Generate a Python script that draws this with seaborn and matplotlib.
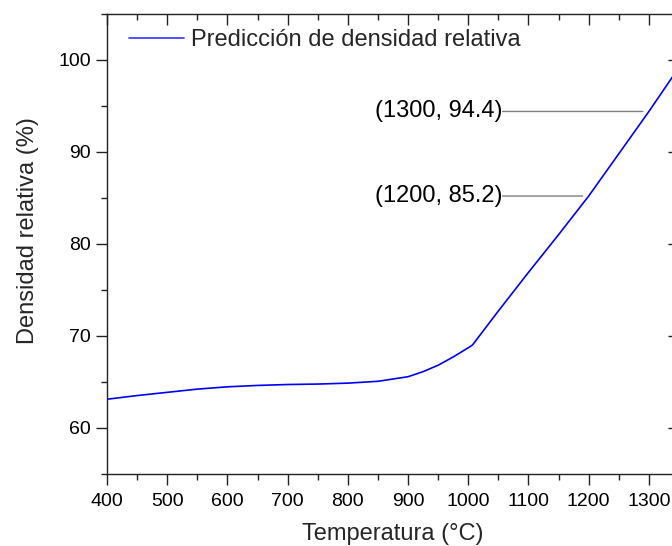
import numpy as np
import pandas as pd
import matplotlib
matplotlib.use("Agg")
import matplotlib.pyplot as plt
import seaborn as sns
from matplotlib.ticker import MultipleLocator

temperature = [400, 450, 500, 550, 600, 650, 700, 750, 800, 850, 900, 925, 950, 975, 990, 1000, 1007,
               1050, 1100, 1150, 1200, 1250, 1300, 1350]
density = [63.1, 63.5, 63.85, 64.2, 64.45, 64.6, 64.7, 64.75, 64.85, 65.05, 65.55, 66.1, 66.8, 67.7, 68.3, 68.7, 69.0,
           72.7, 76.9, 81.0, 85.2, 89.8, 94.4, 99.2]
annot_x = [1300, 1200]
annot_y = [94.4, 85.2]
annot_labels = ["(1300, 94.4)", "(1200, 85.2)"]
series_name = "Predicción de densidad relativa"

df = pd.DataFrame({"Temperatura": temperature, "Densidad": density, "serie": series_name})

sns.set_style("ticks")
plt.rcParams["font.family"] = ["Liberation Sans", "DejaVu Sans"]

fig = plt.figure(figsize=(6.72, 5.46), dpi=100)
ax = fig.add_axes([107 / 672, 1 - 473.7 / 546, (679 - 107) / 672, (473.7 - 14) / 546])

sns.lineplot(data=df, x="Temperatura", y="Densidad", hue="serie", palette=["#0000ff"],
             linewidth=1.2, ax=ax, legend=True)

text_end = 1057
for xv, yv, lab in zip(annot_x, annot_y, annot_labels):
    ax.annotate("", xy=(xv - 10, yv), xytext=(text_end, yv),
                arrowprops=dict(arrowstyle="-", color="#7f7f7f", lw=1.0,
                                shrinkA=0, shrinkB=0))
    ax.text(text_end, yv, lab, ha="right", va="center", fontsize=17, color="black")

ax.set_xlim(400, 1350)
ax.set_ylim(55, 105)
ax.xaxis.set_major_locator(MultipleLocator(100))
ax.xaxis.set_minor_locator(MultipleLocator(50))
ax.yaxis.set_major_locator(MultipleLocator(10))
ax.yaxis.set_minor_locator(MultipleLocator(5))

for s in ax.spines.values():
    s.set_color("#222222")
    s.set_linewidth(1.0)

ax.tick_params(axis="both", which="major", length=8, width=1.0, color="#222222",
               labelsize=14, labelcolor="black")
ax.tick_params(axis="both", which="minor", length=4, width=1.0, color="#222222")
ax.tick_params(axis="both", which="both", direction="out")
ax.tick_params(axis="x", pad=6)

axt = ax.secondary_xaxis("top")
axt.xaxis.set_major_locator(MultipleLocator(100))
axt.xaxis.set_minor_locator(MultipleLocator(50))
axt.tick_params(which="major", direction="in", length=8, width=1.0, color="#222222", labeltop=False)
axt.tick_params(which="minor", direction="in", length=4, width=1.0, color="#222222")
axt.spines["top"].set_visible(False)
axr = ax.secondary_yaxis("right")
axr.yaxis.set_major_locator(MultipleLocator(10))
axr.yaxis.set_minor_locator(MultipleLocator(5))
axr.tick_params(which="major", direction="in", length=8, width=1.0, color="#222222", labelright=False)
axr.tick_params(which="minor", direction="in", length=4, width=1.0, color="#222222")
axr.spines["right"].set_visible(False)

ax.set_xlabel("Temperatura (°C)", fontsize=17, labelpad=9)
ax.set_ylabel("Densidad relativa (%)", fontsize=17, labelpad=14)
ax.yaxis.label.set_y(0.528)

leg = ax.legend(loc="upper left", frameon=False, fontsize=17, handlelength=2.3,
                handletextpad=0.3, borderaxespad=0.25, bbox_to_anchor=(0.012, 1.0))
for h in leg.get_lines():
    h.set_linewidth(1.2)
    h.set_color("#3333ff")

fig.savefig("out.png", dpi=100)
